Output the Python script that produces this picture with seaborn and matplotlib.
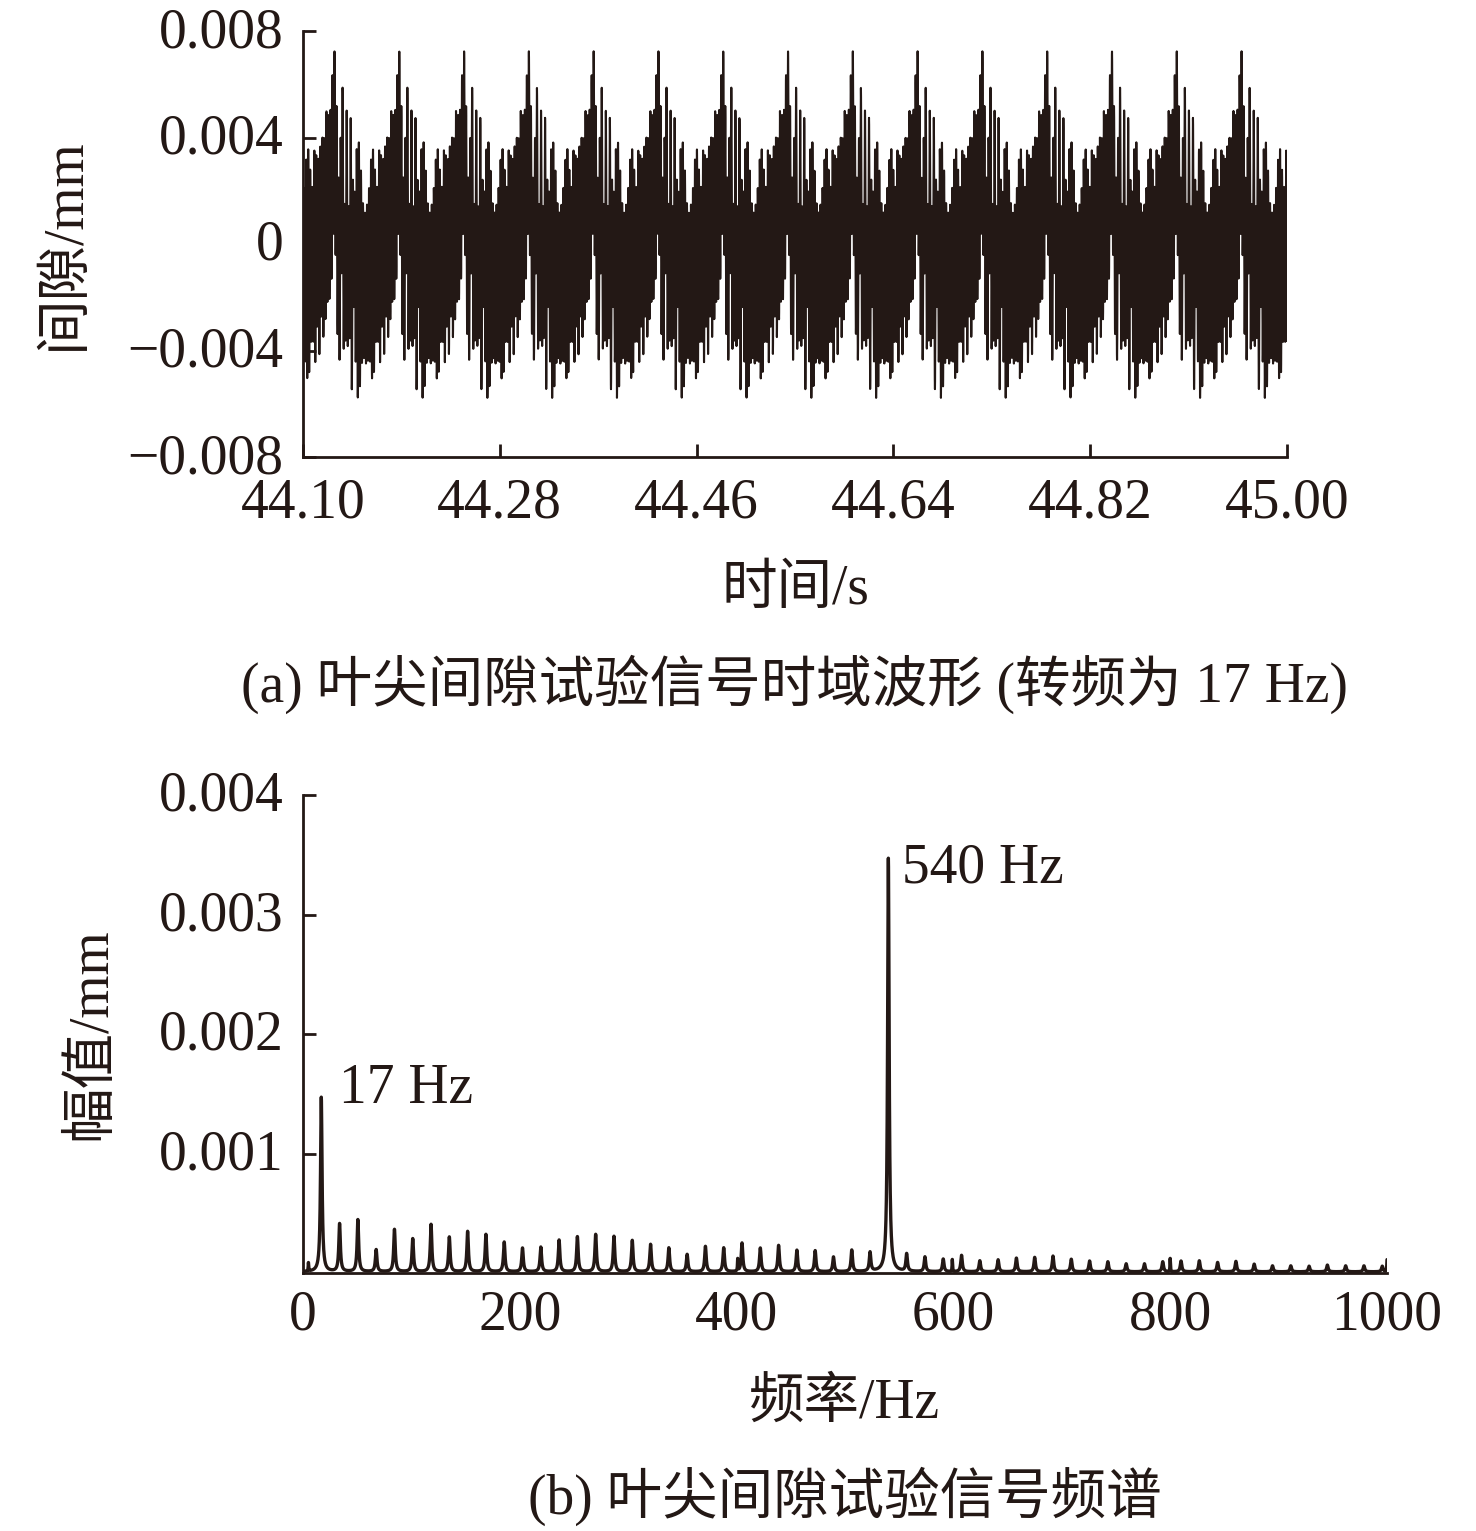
import matplotlib

matplotlib.use("Agg")  # no display in the sandbox
import matplotlib.pyplot as plt
import matplotlib.transforms as mtransforms
import numpy as np
import seaborn as sns
from matplotlib.ticker import FuncFormatter

# rotation frequency (labelled "17 Hz"), 540 Hz is its 32nd order
base_freq = 16.875
orders = np.arange(1, 60)
# peak amplitude of each rotation order, in mm
order_amps = np.array([
    1.46, 0.400, 0.435, 0.184, 0.354, 0.276, 0.396, 0.290, 0.337, 0.312,
    0.248, 0.198, 0.206, 0.265, 0.293, 0.312, 0.296, 0.262, 0.229, 0.200,
    0.145, 0.212, 0.200, 0.240, 0.198, 0.220, 0.180, 0.176, 0.123, 0.180,
    0.159, 3.460, 0.145, 0.123, 0.106, 0.137, 0.092, 0.100, 0.114, 0.120,
    0.131, 0.105, 0.090, 0.084, 0.067, 0.067, 0.084, 0.090, 0.092, 0.078,
    0.087, 0.064, 0.050, 0.050, 0.047, 0.056, 0.050, 0.050, 0.047,
]) * 1e-3
# narrow lines that are not rotation orders
extra_freqs = [5.0, 401.0, 599.0, 800.0, 1000.0]
extra_amps = np.array([0.07, 0.10, 0.10, 0.11, 0.10]) * 1e-3

# first once-per-rev peak in panel (a)
spike_time = 44.127

time_ticks = [44.10, 44.28, 44.46, 44.64, 44.82, 45.00]
gap_ticks = [-0.008, -0.004, 0.0, 0.004, 0.008]
freq_ticks = [0, 200, 400, 600, 800, 1000]
amp_ticks = [0.001, 0.002, 0.003, 0.004]

ink = "#231815"
fs = 40

sns.set_style("ticks")
plt.rcParams["font.family"] = ["Liberation Serif", "Noto Sans CJK SC"]
plt.rcParams["axes.unicode_minus"] = True
plt.rcParams["text.color"] = ink
plt.rcParams["axes.labelcolor"] = ink
plt.rcParams["xtick.color"] = ink
plt.rcParams["ytick.color"] = ink
plt.rcParams["axes.edgecolor"] = ink

# time signal rebuilt from the spectral lines. Phases are not in the
# picture: the three lowest orders peak together at the once-per-rev
# mark, the higher ones get spread (Schroeder) phases.
line_freqs = orders * base_freq
n_hi = len(orders) - 3
phases = -np.pi * (orders - 3) * (orders - 4) / n_hi
phases[orders <= 3] = 0.0
phases[orders == 32] = 0.0
t = np.arange(time_ticks[0], time_ticks[-1], 1 / 20000)
gap = np.zeros_like(t)
for f, a, p in zip(line_freqs, order_amps, phases):
    gap += a * np.cos(2 * np.pi * f * (t - spike_time) + p)

# spectrum line: every read peak drawn with a narrow line shape
freq = np.arange(0, 1000.0001, 0.125)
amp = np.full_like(freq, 1e-5)
for f, a in zip(line_freqs, order_amps):
    amp += a / (1 + ((freq - f) / 0.85) ** 2)
for f, a in zip(extra_freqs, extra_amps):
    amp += a / (1 + ((freq - f) / 0.25) ** 2)

fig = plt.figure(figsize=(14.76, 15.31), dpi=100)
W, H = 1476, 1531
lift = mtransforms.ScaledTranslation(0, 4 / 100, fig.dpi_scale_trans)

ax1 = fig.add_axes([303 / W, 1 - 457 / H, 984 / W, 426 / H])
sns.lineplot(x=t, y=gap, ax=ax1, color=ink, lw=1.5,
             estimator=None, sort=False)
ax1.set_xlim(time_ticks[0], time_ticks[-1])
ax1.set_ylim(gap_ticks[0], gap_ticks[-1])
ax1.set_xticks(time_ticks)
ax1.set_yticks(gap_ticks)
ax1.xaxis.set_major_formatter(FuncFormatter(lambda v, p: f"{v:.2f}"))
ax1.yaxis.set_major_formatter(
    FuncFormatter(lambda v, p: "0" if abs(v) < 1e-9 else f"{v:.3f}".replace("-", "\u2212")))
ax1.tick_params(axis="both", direction="in", length=9.5, width=2,
                labelsize=fs)
ax1.tick_params(axis="y", pad=14)
ax1.tick_params(axis="x", pad=14.5)
ax1.set_ylabel("间隙/mm", fontsize=fs, va="center")
ax1.yaxis.set_label_coords(-0.242, 0.5)

ax2 = fig.add_axes([303 / W, 1 - 1273 / H, 1084 / W, 478 / H])
sns.lineplot(x=freq, y=amp, ax=ax2, color=ink, lw=2.4,
             estimator=None, sort=False)
ax2.set_xlim(freq_ticks[0], freq_ticks[-1])
ax2.set_ylim(0, amp_ticks[-1])
ax2.set_xticks(freq_ticks)
ax2.set_yticks(amp_ticks)
ax2.xaxis.set_major_formatter(FuncFormatter(lambda v, p: f"{v:.0f}"))
ax2.yaxis.set_major_formatter(FuncFormatter(lambda v, p: f"{v:.3f}"))
ax2.tick_params(axis="both", direction="in", length=9.5, width=2,
                labelsize=fs)
ax2.tick_params(axis="x", length=0, pad=12)
ax2.tick_params(axis="y", pad=14)
ax2.set_ylabel("幅值/mm", fontsize=fs, va="center")
ax2.yaxis.set_label_coords(-0.195, 0.5)
ax2.text(33, 0.001423, "17 Hz", fontsize=fs, va="baseline")
ax2.text(553, 0.003264, "540 Hz", fontsize=fs, va="baseline")

for ax in (ax1, ax2):
    sns.despine(ax=ax)
    for side in ("left", "bottom"):
        ax.spines[side].set_linewidth(2)
    for label in ax.get_yticklabels():
        label.set_transform(label.get_transform() + lift)

fig.text(795 / W, 1 - 604 / H, "时间/s", fontsize=fs, ha="center", va="baseline")
fig.text(795 / W, 1 - 702 / H, "(a) 叶尖间隙试验信号时域波形 (转频为 17 Hz)",
         fontsize=fs, ha="center", va="baseline")
fig.text(845 / W, 1 - 1418 / H, "频率/Hz", fontsize=fs, ha="center", va="baseline")
fig.text(845 / W, 1 - 1514 / H, "(b) 叶尖间隙试验信号频谱",
         fontsize=fs, ha="center", va="baseline")

fig.savefig("out.png", dpi=100)
